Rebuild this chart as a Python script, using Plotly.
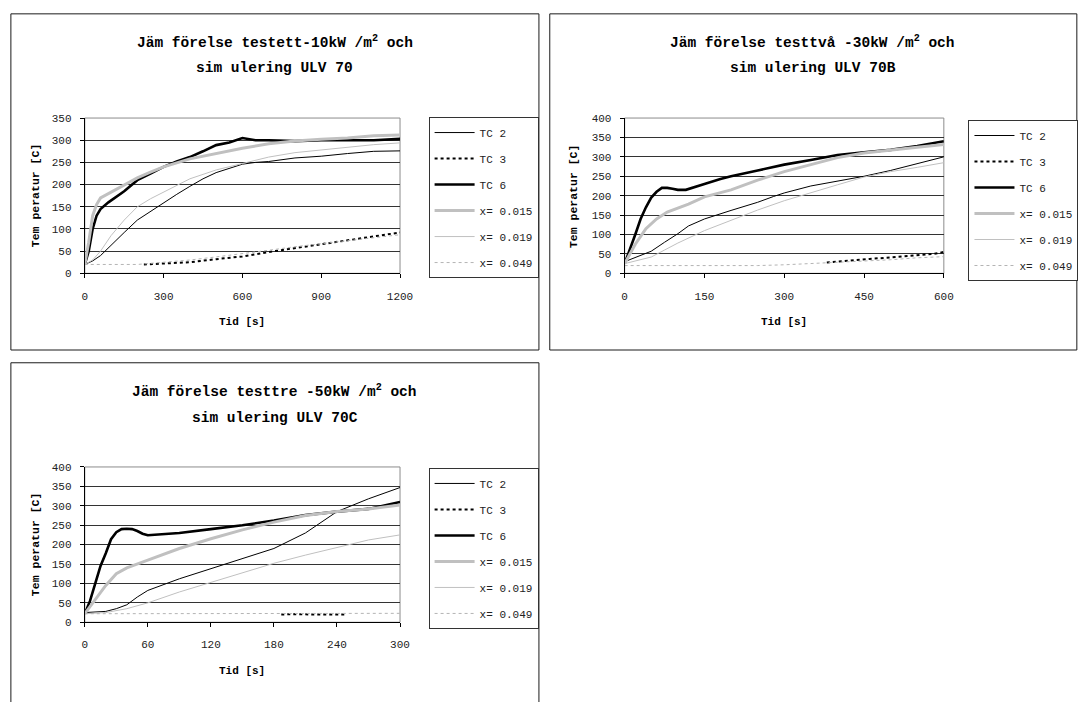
import plotly.graph_objects as go

W, H = 1079, 702

series_names = ["TC 2", "TC 3", "TC 6", "x= 0.015", "x= 0.019", "x= 0.049"]

# ---------- Chart 1: test ett - 10 kW/m2 ----------
c1_tc2_t = [0, 30, 60, 90, 120, 150, 200, 250, 300, 350, 400, 450, 500, 550, 600, 650, 700, 800, 900, 1000, 1100, 1200]
c1_tc2_v = [20, 28, 40, 58, 75, 92, 120, 140, 158, 178, 196, 213, 227, 236, 246, 250, 252, 260, 264, 270, 275, 276]
c1_tc3_t = [225, 300, 400, 500, 600, 700, 800, 900, 1000, 1100, 1200]
c1_tc3_v = [20, 22, 25, 32, 38, 48, 57, 65, 75, 83, 92]
c1_tc6_t = [0, 15, 30, 45, 60, 90, 150, 200, 250, 300, 350, 400, 450, 500, 550, 600, 650, 700, 800, 900, 1000, 1100, 1200]
c1_tc6_v = [20, 50, 100, 130, 145, 160, 185, 210, 225, 240, 252, 262, 275, 289, 295, 305, 300, 300, 298, 300, 300, 300, 303]
c1_x015_t = [0, 15, 30, 45, 60, 90, 150, 200, 250, 300, 400, 500, 600, 700, 800, 900, 1000, 1100, 1200]
c1_x015_v = [20, 70, 130, 155, 170, 180, 200, 215, 228, 240, 258, 270, 282, 292, 298, 302, 305, 310, 312]
c1_x019_t = [0, 30, 60, 100, 150, 200, 250, 300, 400, 500, 600, 700, 800, 900, 1000, 1100, 1200]
c1_x019_v = [20, 30, 50, 85, 120, 150, 168, 183, 213, 233, 248, 262, 272, 278, 285, 290, 294]
c1_x049_t = [0, 200, 300, 400, 500, 600, 700, 800, 900, 1000, 1100, 1200]
c1_x049_v = [20, 20, 25, 30, 37, 44, 52, 60, 67, 74, 80, 87]

# ---------- Chart 2: test två - 30 kW/m2 ----------
c2_tc2_t = [0, 30, 50, 75, 100, 120, 150, 200, 250, 280, 300, 350, 400, 450, 500, 550, 600]
c2_tc2_v = [30, 45, 57, 80, 102, 122, 140, 162, 183, 198, 207, 225, 238, 250, 265, 282, 300]
c2_tc3_t = [380, 420, 460, 500, 540, 580, 600]
c2_tc3_v = [28, 33, 37, 41, 46, 50, 55]
c2_tc6_t = [0, 10, 20, 30, 40, 50, 60, 70, 80, 90, 100, 115, 130, 150, 180, 200, 250, 300, 350, 400, 450, 500, 550, 600]
c2_tc6_v = [25, 60, 100, 140, 170, 195, 210, 220, 220, 218, 215, 215, 222, 230, 243, 250, 265, 280, 292, 305, 312, 318, 328, 340]
c2_x015_t = [0, 20, 40, 60, 80, 100, 120, 150, 200, 250, 300, 350, 400, 450, 500, 550, 600]
c2_x015_v = [25, 75, 115, 140, 158, 168, 178, 197, 215, 240, 262, 280, 298, 310, 318, 325, 332]
c2_x019_t = [0, 50, 75, 100, 150, 200, 250, 300, 350, 400, 450, 500, 550, 600]
c2_x019_v = [25, 42, 60, 78, 110, 137, 163, 187, 208, 228, 248, 262, 273, 285]
c2_x049_t = [0, 250, 300, 350, 400, 450, 500, 550, 600]
c2_x049_v = [20, 20, 22, 25, 28, 31, 35, 40, 43]

# ---------- Chart 3: test tre - 50 kW/m2 ----------
c3_tc2_t = [0, 20, 30, 40, 50, 60, 90, 120, 150, 180, 210, 240, 270, 300]
c3_tc2_v = [25, 28, 35, 45, 65, 82, 112, 138, 162, 190, 230, 285, 318, 347]
c3_tc3_t = [187, 200, 215, 230, 247]
c3_tc3_v = [20, 21, 20, 20, 20]
c3_tc6_t = [0, 5, 10, 15, 20, 25, 30, 35, 40, 45, 50, 55, 60, 90, 120, 150, 180, 210, 240, 270, 300]
c3_tc6_v = [22, 55, 100, 145, 178, 214, 232, 240, 241, 240, 235, 228, 224, 230, 240, 250, 262, 276, 285, 292, 310]
c3_x015_t = [0, 10, 20, 30, 40, 60, 90, 120, 150, 180, 210, 240, 270, 300]
c3_x015_v = [22, 60, 95, 125, 140, 160, 190, 215, 238, 258, 275, 285, 292, 302]
c3_x019_t = [0, 20, 40, 60, 90, 120, 150, 180, 210, 240, 270, 300]
c3_x019_v = [22, 25, 35, 50, 78, 102, 128, 152, 173, 193, 212, 225]
c3_x049_t = [0, 300]
c3_x049_v = [22, 23]

chart_titles = [
    ("Jäm förelse testett-10kW /m<sup>2</sup> och", "sim ulering ULV 70"),
    ("Jäm förelse testtvå -30kW /m<sup>2</sup> och", "sim ulering ULV 70B"),
    ("Jäm förelse testtre -50kW /m<sup>2</sup> och", "sim ulering ULV 70C"),
]
y_title = "Tem peratur [C]"
x_title = "Tid [s]"

x_ranges = [[0, 1200], [0, 600], [0, 300]]
x_dticks = [300, 150, 60]
y_ranges = [[0, 350], [0, 400], [0, 400]]

data_sets = [
    [(c1_tc2_t, c1_tc2_v), (c1_tc3_t, c1_tc3_v), (c1_tc6_t, c1_tc6_v),
     (c1_x015_t, c1_x015_v), (c1_x019_t, c1_x019_v), (c1_x049_t, c1_x049_v)],
    [(c2_tc2_t, c2_tc2_v), (c2_tc3_t, c2_tc3_v), (c2_tc6_t, c2_tc6_v),
     (c2_x015_t, c2_x015_v), (c2_x019_t, c2_x019_v), (c2_x049_t, c2_x049_v)],
    [(c3_tc2_t, c3_tc2_v), (c3_tc3_t, c3_tc3_v), (c3_tc6_t, c3_tc6_v),
     (c3_x015_t, c3_x015_v), (c3_x019_t, c3_x019_v), (c3_x049_t, c3_x049_v)],
]

line_styles = {
    "TC 2": dict(color="#000000", width=1, dash="solid"),
    "TC 3": dict(color="#000000", width=2, dash="dot"),
    "TC 6": dict(color="#000000", width=2.6, dash="solid"),
    "x= 0.015": dict(color="#c0c0c0", width=3, dash="solid"),
    "x= 0.019": dict(color="#c0c0c0", width=1, dash="solid"),
    "x= 0.049": dict(color="#b4b4b4", width=1, dash="dot"),
}

# layout geometry in pixels (left, top, right, bottom)
plot_px = [(83, 115, 403, 273), (631, 115, 955, 273), (83, 470, 403, 628)]
box_px = [(8, 9, 544, 351), (555, 9, 1090, 351), (8, 364, 544, 712)]
legend_px = [(432, 114), (980, 117), (432, 471)]
title_px = [((276, 38), (276, 64)), ((822, 38), (822, 64)), ((276, 393), (276, 420))]
ytitle_px = [(33, 194), (579, 194), (33, 549)]
xtitle_px = [(243, 323), (793, 323), (243, 678)]

MONO = "Liberation Mono"
TXT = "#222222"


def px_x(x):
    return x / W


def px_y(y):
    return 1 - y / H


fig = go.Figure()
shapes = []
annotations = []
layout_axes = {}

for i in range(3):
    sfx = "" if i == 0 else str(i + 1)
    xa, ya = "x" + sfx, "y" + sfx
    leg = "legend" if i == 0 else "legend" + str(i + 1)
    for name, (t, v) in zip(series_names, data_sets[i]):
        fig.add_trace(go.Scatter(
            x=t, y=v, mode="lines", name=name,
            line=line_styles[name], xaxis=xa, yaxis=ya,
            legend=leg, legendgroup=f"c{i}_{name}", showlegend=True,
        ))
    l, tp, r, b = plot_px[i]
    layout_axes["xaxis" + sfx] = dict(
        domain=[px_x(l), px_x(r)], anchor=ya, range=x_ranges[i],
        dtick=x_dticks[i], tick0=0, showgrid=False, zeroline=False,
        showline=True, linecolor="#000000", linewidth=1,
        ticks="outside", ticklen=4, tickcolor="#000000",
        tickfont=dict(family=MONO, size=11, color=TXT),
        ticklabelstandoff=8,
    )
    layout_axes["yaxis" + sfx] = dict(
        domain=[px_y(b), px_y(tp)], anchor=xa, range=y_ranges[i],
        dtick=50, tick0=0, showgrid=True, gridcolor="#333333", gridwidth=1,
        zeroline=False, showline=True, linecolor="#000000", linewidth=1,
        ticks="outside", ticklen=4, tickcolor="#000000",
        tickfont=dict(family=MONO, size=11, color=TXT),
        ticklabelstandoff=6,
    )
    # plot area border (gray)
    shapes.append(dict(type="rect", xref="paper", yref="paper",
                       x0=px_x(l), x1=px_x(r), y0=px_y(b), y1=px_y(tp),
                       line=dict(color="#8c8c8c", width=1), layer="below"))
    # chart frame
    bl, bt, br, bb = box_px[i]
    shapes.append(dict(type="rect", xref="paper", yref="paper",
                       x0=px_x(bl), x1=px_x(br), y0=px_y(bb), y1=px_y(bt),
                       line=dict(color="#1a1a1a", width=1), layer="below"))
    # titles
    for (tx, ty), txt in zip(title_px[i], chart_titles[i]):
        annotations.append(dict(xref="paper", yref="paper", x=px_x(tx), y=px_y(ty),
                                text=f"<b>{txt}</b>", showarrow=False,
                                xanchor="center", yanchor="middle",
                                font=dict(family=MONO, size=14.5, color="#000000")))
    yx, yy = ytitle_px[i]
    annotations.append(dict(xref="paper", yref="paper", x=px_x(yx), y=px_y(yy),
                            text=f"<b>{y_title}</b>", showarrow=False, textangle=-90,
                            xanchor="center", yanchor="middle",
                            font=dict(family=MONO, size=11.5, color="#000000")))
    xx, xy = xtitle_px[i]
    annotations.append(dict(xref="paper", yref="paper", x=px_x(xx), y=px_y(xy),
                            text=f"<b>{x_title}</b>", showarrow=False,
                            xanchor="center", yanchor="middle",
                            font=dict(family=MONO, size=11, color="#000000")))
    lx, ly = legend_px[i]
    layout_axes[leg] = dict(
        x=px_x(lx), y=px_y(ly), xanchor="left", yanchor="top",
        bgcolor="#ffffff", bordercolor="#333333", borderwidth=1,
        font=dict(family=MONO, size=11, color=TXT),
        traceorder="grouped", tracegroupgap=7, itemwidth=40,
    )

fig.update_layout(
    width=W, height=H, margin=dict(l=0, r=0, t=0, b=0),
    paper_bgcolor="#ffffff", plot_bgcolor="#ffffff",
    shapes=shapes, annotations=annotations, **layout_axes,
)

fig.write_html("out.html")
